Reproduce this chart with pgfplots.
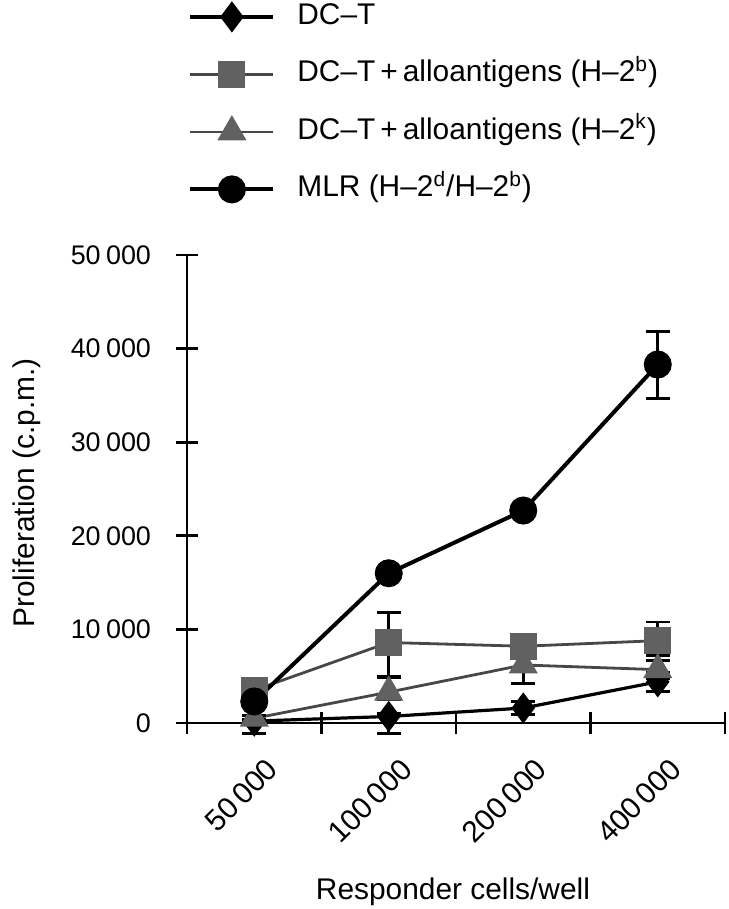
\documentclass[border=0pt]{standalone}
\usepackage{fontspec}
\setmainfont{Liberation Sans}
\usepackage{pgfplots}
\pgfplotsset{compat=1.18}
\definecolor{hatch}{gray}{0.38}
\definecolor{hatchline}{gray}{0.28}
\begin{document}
\begin{tikzpicture}
\useasboundingbox (-93.5bp,-93bp) rectangle (271bp,361.5bp);
\begin{axis}[
  scale only axis, width=269bp, height=234bp,
  xmin=-0.5, xmax=3.5, ymin=0, ymax=50000,
  clip=false,
  axis x line*=bottom, axis y line*=left,
  axis line style={line width=1.4bp, -},
  xtick={-0.5,0.5,1.5,2.5,3.5}, xticklabels={},
  extra x ticks={0,1,2,3},
  extra x tick labels={50\hspace{0.15em}000,100\hspace{0.15em}000,200\hspace{0.15em}000,400\hspace{0.15em}000},
  extra x tick style={major tick length=0pt, xticklabel style={xshift=11.5bp, yshift=-18bp, rotate=45, anchor=east, font=\fontsize{15}{17}\selectfont}},
  ytick={0,10000,20000,30000,40000,50000},
  scaled y ticks=false,
  tick align=center, major tick length=11bp,
  tick style={line width=1.4bp, black},
  /pgf/number format/1000 sep={\hspace{0.2em}},
  /pgf/number format/assume math mode=true,
  yticklabel style={xshift=-9bp, font=\fontsize{13.5}{15}\selectfont},
  every axis y label/.style={at={(axis description cs:0,0.5)}, xshift=-80bp, yshift=-2bp, rotate=90, anchor=center},
  every axis x label/.style={at={(axis description cs:0.5,0)}, anchor=base, yshift=-88bp, xshift=-1.5bp},
  label style={font=\fontsize{15}{17}\selectfont},
  xlabel={Responder cells/well},
  ylabel={Proliferation (c.p.m.)},
  legend style={at={(0,1)}, anchor=north west, xshift=0.5bp, yshift=127.5bp, draw=none, fill=none, inner sep=0pt,
    column sep=10bp, row sep=12.25bp,
    nodes={inner sep=1bp, text height=11bp, text depth=3.5bp, font=\fontsize{15}{18}\selectfont}},
  legend cell align=left,
  legend image code/.code={\draw[mark repeat=2,mark phase=2,#1] plot coordinates {(0bp,0bp) (20.75bp,0bp) (41.5bp,0bp)};},
]
\addplot[black, line width=1.6bp, mark=diamond*, mark size=6.5bp, mark options={solid, fill=black},
  error bars/.cd, y dir=both, y explicit,
  error bar style={line width=1.4bp, black},
  error mark options={rotate=90, mark size=6bp, line width=1.4bp, black}]
  coordinates {(0,200) += (0,200) -= (0,1300) (1,700) += (0,300) -= (0,1800) (2,1600) +- (0,700) (3,4400) +- (0,1000)};
\addlegendentry{DC–T}
\addplot[hatchline, line width=1.4bp, mark=square*, mark size=6bp, mark options={solid, fill=hatch, draw=hatch},
  error bars/.cd, y dir=both, y explicit,
  error bar style={line width=1.4bp, black},
  error mark options={rotate=90, mark size=6bp, line width=1.4bp, black}]
  coordinates {(0,3500) +- (0,500) (1,8600) += (0,3200) -= (0,3600) (2,8200) +- (0,1000) (3,8800) += (0,2000) -= (0,1600)};
\addlegendentry{DC–T\,+\,alloantigens (H–2\textsuperscript{b})}
\addplot[hatchline, line width=1.4bp, mark=triangle*, mark size=7bp, mark options={solid, fill=hatch, draw=hatch},
  error bars/.cd, y dir=both, y explicit,
  error bar style={line width=1.4bp, black},
  error mark options={rotate=90, mark size=6bp, line width=1.4bp, black}]
  coordinates {(0,500) +- (0,300) (1,3300) += (0,1600) -= (0,800) (2,6200) += (0,1000) -= (0,2000) (3,5700) +- (0,1000)};
\addlegendentry{DC–T\,+\,alloantigens (H–2\textsuperscript{k})}
\addplot[black, line width=2bp, mark=*, mark size=6bp, mark options={solid, fill=black},
  error bars/.cd, y dir=both, y explicit,
  error bar style={line width=1.4bp, black},
  error mark options={rotate=90, mark size=6bp, line width=1.4bp, black}]
  coordinates {(0,2300) +- (0,400) (1,16000) +- (0,400) (2,22700) +- (0,500) (3,38300) += (0,3500) -= (0,3600)};
\addlegendentry{MLR (H–2\textsuperscript{d}/H–2\textsuperscript{b})}
\end{axis}
\end{tikzpicture}
\end{document}
